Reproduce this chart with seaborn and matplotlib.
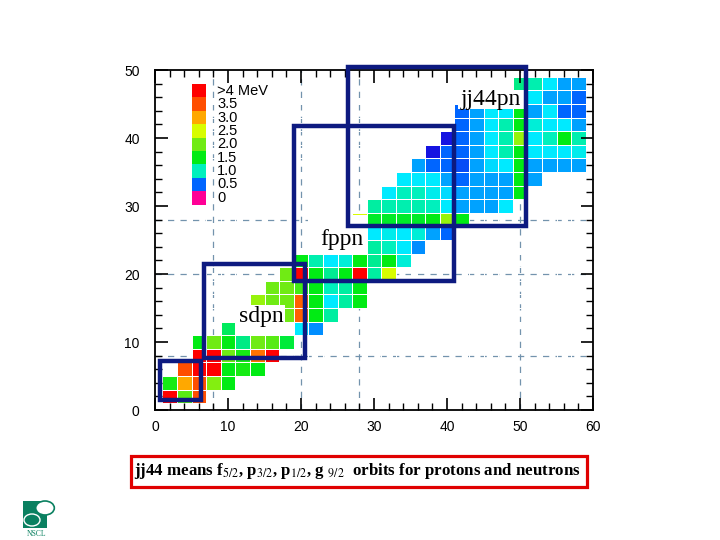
import numpy as np
import pandas as pd
import matplotlib
matplotlib.use("Agg")
import matplotlib.pyplot as plt
import seaborn as sns
from matplotlib.colors import LinearSegmentedColormap
from matplotlib.patches import Rectangle, Circle

# ---------------- data (E(2+) like energies in MeV, cells on even N / even Z) -------------
Z_ROWS = [2, 4, 6, 8, 10, 12, 14, 16, 18, 20, 22, 24, 26, 28, 30, 32, 34, 36, 38, 40, 42, 44, 46, 48]
N_START = [2, 2, 4, 6, 6, 10, 18, 14, 16, 18, 20, 30, 30, 28, 30, 32, 34, 36, 38, 40, 42, 42, 44, 50]

E_Z02 = [4.3, 1.9, 3.5]
E_Z04 = [1.6, 3.0, 3.5, 2.1, 1.5]
E_Z06 = [3.5, 4.3, 4.3, 1.5, 1.6, 1.5]
E_Z08 = [4.3, 4.3, 2.0, 1.6, 3.3, 4.3]
E_Z10 = [1.5, 2.0, 1.5, 1.2, 2.0, 1.9, 1.4]
E_Z12 = [1.3, None, None, None, None, 0.85, 0.6]
E_Z14 = [2.0, 3.4, 1.5, 1.1]
E_Z16 = [2.2, 2.0, 2.0, 3.4, 1.5, 0.85, 1.1, 1.5]
E_Z18 = [2.0, 2.0, 1.8, 1.5, 1.0, 1.1, 1.5]
E_Z20 = [2.0, 4.3, 1.5, 1.15, 1.5, 4.3, 1.1, 2.5]
E_Z22 = [1.5, 1.05, 0.85, 0.95, 1.5, 1.15, 1.5, 0.95]
E_Z24 = [1.1, 1.0, 0.85, 0.6]
E_Z26 = [0.85, 0.9, 0.85, 0.95, 0.65, 0.5]
E_Z28 = [2.5, 1.45, 1.45, 1.45, 1.45, 1.5, 2.2, 1.5]
E_Z30 = [1.1, 1.05, 1.05, 1.05, 1.0, 0.85, 0.65, 0.65, 0.65, 0.85]
E_Z32 = [0.85, 1.0, 1.0, 0.9, 0.8, 0.65, 0.65, 0.65, 0.65, 1.5]
E_Z34 = [0.85, 0.85, 0.85, 0.65, 0.5, 0.65, 0.65, 0.65, 1.5, 0.65]
E_Z36 = [0.65, 0.5, 0.5, 0.45, 0.65, 0.8, 0.85, 1.5, 0.65, 0.65, 0.65, 0.65]
E_Z38 = [0.3, 0.5, 0.5, 0.65, 0.85, 1.05, 1.5, 0.85, 0.85, 0.85, 0.9]
E_Z40 = [0.3, 0.5, 0.65, 0.85, 1.05, 2.2, 0.85, 1.0, 1.5, 1.05]
E_Z42 = [0.5, 0.65, 0.85, 1.05, 1.5, 0.95, 0.85, 0.85, 0.65]
E_Z44 = [0.5, 0.65, 0.85, 0.85, 1.5, 0.65, 0.85, 0.5, 0.5]
E_Z46 = [0.65, 0.65, 0.85, 1.5, 0.85, 0.65, 0.65, 0.5]
E_Z48 = [1.2, 1.05, 0.85, 0.65, 0.65]

E_ROWS = [E_Z02, E_Z04, E_Z06, E_Z08, E_Z10, E_Z12, E_Z14, E_Z16, E_Z18, E_Z20, E_Z22, E_Z24,
          E_Z26, E_Z28, E_Z30, E_Z32, E_Z34, E_Z36, E_Z38, E_Z40, E_Z42, E_Z44, E_Z46, E_Z48]

LEGEND_VALUES = [4.0, 3.5, 3.0, 2.5, 2.0, 1.5, 1.0, 0.5, 0.0]
LEGEND_LABELS = ['>4 MeV', '3.5', '3.0', '2.5', '2.0', '1.5', '1.0', '0.5', '0']

X_TICKS = [0, 10, 20, 30, 40, 50, 60]
Y_TICKS = [0, 10, 20, 30, 40, 50]
MAGIC = [8, 20, 28, 50]

# colour scale
CMAP_VALUES = [0, 0.3, 0.5, 0.65, 0.85, 1.0, 1.2, 1.5, 2.0, 2.5, 3.0, 3.5, 4.0]
CMAP_COLORS = ['#ff0096', '#1414e1', '#0064ff', '#00a5ff', '#00ebff', '#00f0be', '#00eb82',
               '#00eb14', '#6eeb14', '#d7ff00', '#ffaa00', '#ff5000', '#ff0000']
cmap = LinearSegmentedColormap.from_list(
    'mev', list(zip([v / 4.0 for v in CMAP_VALUES], CMAP_COLORS)))

# ---------------- build table ----------------
records = []
for z, n0, vals in zip(Z_ROWS, N_START, E_ROWS):
    for k, v in enumerate(vals):
        if v is not None:
            records.append((n0 + 2 * k, z, v))
df = pd.DataFrame(records, columns=['N', 'Z', 'E'])
mat = df.pivot(index='Z', columns='N', values='E').reindex(
    index=range(0, 52, 2), columns=range(0, 62, 2))


def hx(n):
    return (n + 1) / 2.0


def hy(z):
    return (z + 1) / 2.0


plt.rcParams['font.family'] = ['Liberation Sans', 'DejaVu Sans']
plt.rcParams['mathtext.fontset'] = 'stix'

fig = plt.figure(figsize=(7.2, 5.4), dpi=100)
ax = fig.add_axes([155 / 720, 130 / 540, 438 / 720, 340 / 540])

sns.heatmap(mat, ax=ax, cmap=cmap, vmin=0, vmax=4, cbar=False,
            linewidths=0.7, linecolor='white', xticklabels=False, yticklabels=False)

ax.set_xlim(hx(0), hx(60))
ax.set_ylim(hy(0), hy(50))
ax.set_xlabel('')
ax.set_ylabel('')

# dashed magic-number lines (behind the cells)
for m in MAGIC:
    ax.axvline(hx(m), color='#7393ad', lw=0.9, ls=(0, (5, 5)), zorder=0.5)
    if m < 50:
        ax.axhline(hy(m), color='#7393ad', lw=0.9, ls=(0, (5, 5)), zorder=0.5)

# ticks
ax.set_xticks([hx(v) for v in X_TICKS])
ax.set_xticklabels([str(v) for v in X_TICKS])
ax.set_xticks([hx(v) for v in range(0, 61, 2)], minor=True)
ax.set_yticks([hy(v) for v in Y_TICKS])
ax.set_yticklabels([str(v) for v in Y_TICKS], rotation=0)
ax.set_yticks([hy(v) for v in range(0, 51, 2)], minor=True)
ax.tick_params(which='both', direction='in', top=True, right=True, color='black')
ax.tick_params(which='major', length=9, width=1.2)
ax.tick_params(which='minor', length=5, width=1.0)
ax.tick_params(axis='x', which='major', pad=7, labelsize=10)
ax.tick_params(axis='y', which='major', pad=11, labelsize=10)
for sp in ax.spines.values():
    sp.set_visible(True)
    sp.set_linewidth(1.3)
    sp.set_color('black')

# legend
x0, w = (192 - 155) / 438, 14 / 438
top, h = (410 - 84) / 340, 13.4 / 340
for i, (v, lab) in enumerate(zip(LEGEND_VALUES, LEGEND_LABELS)):
    y = top - (i + 1) * h
    ax.add_patch(Rectangle((x0, y), w, h, transform=ax.transAxes,
                           facecolor=cmap(v / 4.0), edgecolor='none', zorder=3))
    ax.text((217 - 155) / 438, y + h / 2, lab, transform=ax.transAxes,
            ha='left', va='center', fontsize=10.5, zorder=3)

# region labels with white backgrounds
LABELS = [('jj44pn', 46.0, 45.7, (41.5, 44.3, 50.6, 47.1)),
          ('fppn', 25.6, 25.0, (21.0, 23.0, 29.0, 28.7)),
          ('sdpn', 14.5, 13.8, (11.0, 12.0, 17.8, 15.4))]
for txt, n, z, (n0, z0, n1, z1) in LABELS:
    ax.add_patch(Rectangle((hx(n0), hy(z0)), hx(n1) - hx(n0), hy(z1) - hy(z0),
                           facecolor='white', edgecolor='none', zorder=4))
    ax.text(hx(n), hy(z), txt, ha='center', va='center', fontsize=17,
            family=['Liberation Serif', 'DejaVu Serif'], zorder=5)

# shell-model space boxes
BOXES = [(0.75, 1.47, 6.3, 7.2), (6.7, 7.6, 20.5, 21.4),
         (19.06, 19.0, 40.9, 41.8), (26.5, 27.06, 50.8, 50.5)]
for n0, z0, n1, z1 in BOXES:
    ax.add_patch(Rectangle((hx(n0), hy(z0)), hx(n1) - hx(n0), hy(z1) - hy(z0),
                           fill=False, edgecolor='#0d1a80', lw=3.2, zorder=6,
                           clip_on=False))

# caption box
fig.patches.append(Rectangle((131 / 720, 53 / 540), 456 / 720, 31 / 540,
                             transform=fig.transFigure, facecolor='white',
                             edgecolor='#e00000', lw=2.3))
fig.text(357 / 720, 69 / 540,
         r'jj44 means f$_{5/2}$, p$_{3/2}$, p$_{1/2}$, g $_{9/2}$  orbits for protons and neutrons',
         ha='center', va='center', fontsize=12.2, fontweight='bold',
         family=['Liberation Serif', 'DejaVu Serif'])

# small logo
fig.patches.append(Rectangle((23 / 720, 12 / 540), 24 / 720, 27 / 540,
                             transform=fig.transFigure, facecolor='#0a8060', edgecolor='none'))
fig.patches.append(Circle((45 / 720, 32 / 540), 7 / 540, transform=fig.transFigure,
                          facecolor='white', edgecolor='#0a8060', lw=1.2))
fig.patches.append(Circle((32 / 720, 20 / 540), 6 / 540, transform=fig.transFigure,
                          facecolor='none', edgecolor='white', lw=1.0))
fig.text(37 / 720, 6 / 540, 'NSCL', ha='center', va='center', fontsize=5.5,
         color='#0a8060', family=['Liberation Serif', 'DejaVu Serif'])

fig.savefig('out.png', dpi=100)
